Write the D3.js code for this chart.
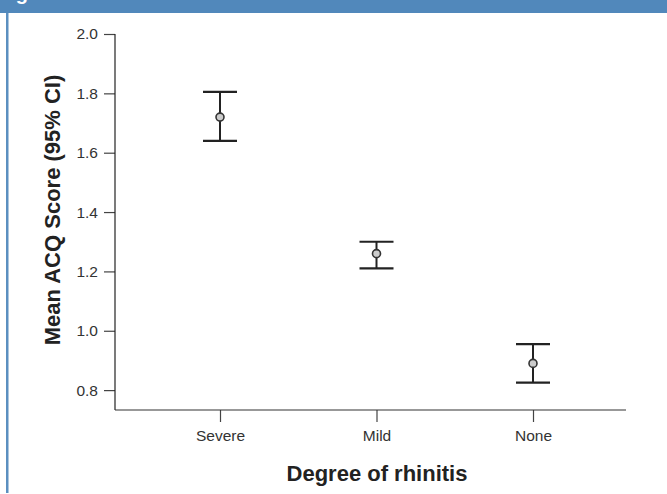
<!DOCTYPE html>
<html>
<head>
<meta charset="utf-8">
<script src="https://cdn.jsdelivr.net/npm/d3@7"></script>
<style>
  body { margin: 0; background: #fff; }
  text { font-family: "Liberation Sans", Arial, sans-serif; }
</style>
</head>
<body>
<div id="chart"></div>
<script>
// Data
const groups = ["Severe", "Mild", "None"];
const means = [1.72, 1.26, 0.89];
const lower = [1.64, 1.21, 0.825];
const upper = [1.805, 1.30, 0.955];
const yTicks = [0.8, 1.0, 1.2, 1.4, 1.6, 1.8, 2.0];

const width = 667;
const height = 494;

const svg = d3.select("#chart")
    .append("svg")
    .attr("width", width)
    .attr("height", height);

// Frame: blue header strip and left rule
svg.append("rect")
    .attr("x", 0).attr("y", 0)
    .attr("width", width).attr("height", 13)
    .style("fill", "#5188bb");
// header caption, cropped off at the top like in the source image
svg.append("text")
    .attr("x", -2).attr("y", -0.5)
    .text("Figure 1")
    .style("font-size", "20px")
    .style("font-weight", "bold")
    .style("fill", "#fff");
svg.append("rect")
    .attr("x", 6).attr("y", 13)
    .attr("width", 2.5).attr("height", height - 14)
    .style("fill", "#5b8fc0");

// Scales
const x = d3.scalePoint()
    .domain(groups)
    .range([220, 533]);

const y = d3.scaleLinear()
    .domain([0.733, 2.0])
    .range([410, 34]);

// Axes
const yAxis = svg.append("g")
    .attr("transform", "translate(115,0)")
    .call(d3.axisLeft(y).tickValues(yTicks).tickFormat(d3.format(".1f")).tickSize(11).tickPadding(6));
yAxis.select(".domain").remove();
svg.append("line")
    .attr("x1", 115).attr("x2", 115)
    .attr("y1", y(2.0)).attr("y2", 410)
    .style("stroke", "#222").style("stroke-width", 1.2);

const xAxis = svg.append("g")
    .attr("transform", "translate(0,410)")
    .call(d3.axisBottom(x).tickSize(12).tickPadding(8));
xAxis.select(".domain").remove();
svg.append("line")
    .attr("x1", 115).attr("x2", 626)
    .attr("y1", 410).attr("y2", 410)
    .style("stroke", "#333").style("stroke-width", 1.2);

svg.selectAll(".tick line").style("stroke", "#444").style("stroke-width", 1.2);
svg.selectAll(".tick text")
    .style("font-size", "15.5px")
    .style("fill", "#333")
    .style("font-family", "'Liberation Sans', Arial, sans-serif");

// Axis titles
svg.append("text")
    .attr("transform", "translate(60,210) rotate(-90)")
    .attr("text-anchor", "middle")
    .text("Mean ACQ Score (95% CI)")
    .style("font-size", "22px")
    .style("font-weight", "bold")
    .style("fill", "#222");

svg.append("text")
    .attr("x", 377).attr("y", 481)
    .attr("text-anchor", "middle")
    .text("Degree of rhinitis")
    .style("font-size", "22px")
    .style("font-weight", "bold")
    .style("fill", "#222");

// Error bars
const capHalf = 17;
const bars = svg.selectAll(".errbar")
    .data(groups)
    .enter().append("g")
    .attr("class", "errbar");

bars.append("line")
    .attr("x1", d => x(d)).attr("x2", d => x(d))
    .attr("y1", (d, i) => y(upper[i])).attr("y2", (d, i) => y(lower[i]))
    .style("stroke", "#222").style("stroke-width", 2);

bars.append("line")
    .attr("x1", d => x(d) - capHalf).attr("x2", d => x(d) + capHalf)
    .attr("y1", (d, i) => y(upper[i])).attr("y2", (d, i) => y(upper[i]))
    .style("stroke", "#222").style("stroke-width", 2.2);

bars.append("line")
    .attr("x1", d => x(d) - capHalf).attr("x2", d => x(d) + capHalf)
    .attr("y1", (d, i) => y(lower[i])).attr("y2", (d, i) => y(lower[i]))
    .style("stroke", "#222").style("stroke-width", 2.2);

bars.append("circle")
    .attr("cx", d => x(d))
    .attr("cy", (d, i) => y(means[i]))
    .attr("r", 4)
    .style("fill", "#cccccc")
    .style("stroke", "#333")
    .style("stroke-width", 1.6);
</script>
</body>
</html>
